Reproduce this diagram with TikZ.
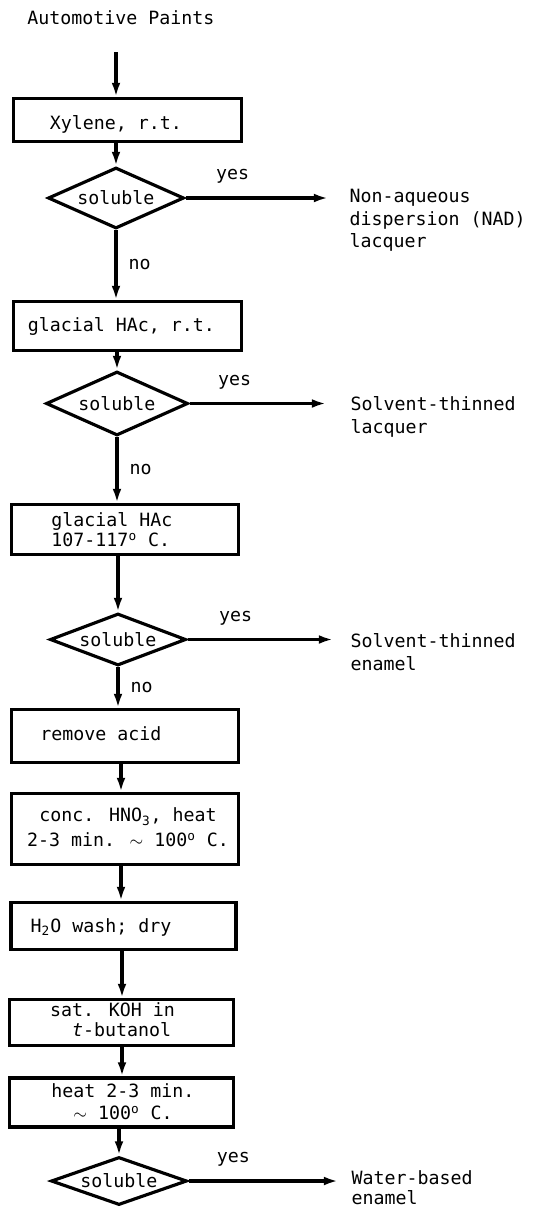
\documentclass[tikz,border=0pt]{standalone}
\usepackage{fontspec}
\usepackage{tikz}
\usetikzlibrary{arrows.meta,shapes.geometric}
\newfontfamily\plotter{DejaVu Sans Mono}
\newcommand{\degr}{\textsuperscript{o}}

\begin{document}
\begin{tikzpicture}[x=0.02cm, y=-0.02cm, line width=1.8pt,
    every node/.style={font=\plotter\fontsize{10.4}{11.4}\selectfont},
    box/.style={draw, rectangle, inner sep=0pt},
    query/.style={draw, diamond, aspect=2.7, inner sep=0pt,
        minimum width=2.72cm, minimum height=1.22cm},
    txt/.style={inner sep=0pt, align=center},
    result/.style={inner sep=0pt, anchor=north west, align=left,
        font=\plotter\fontsize{10.4}{12.8}\selectfont},
    arr/.style={-{Latex[length=8pt,width=5pt]}}]
    \useasboundingbox (0,0) rectangle (548,1211);

    % start
    \node (title) at (121,18) {Automotive Paints};
    \coordinate (start) at (116,52);

    % xylene at room temperature
    \node[box, minimum width=4.56cm, minimum height=0.86cm] (xyl) at (127.5,120) {};
    \node[txt] (xylt) at (116,124) {Xylene, r.t.};
    \node[query] (q1) at (116,198) {soluble};
    \coordinate (r1) at (328,198);
    \node[result] (nad) at (348,188) {Non-aqueous\\dispersion (NAD)\\lacquer};

    % glacial acetic acid, room temperature
    \node[box, minimum width=4.56cm, minimum height=0.98cm] (gla) at (127.5,326) {};
    \node[txt] (glat) at (121.5,326.5) {glacial HAc, r.t.};
    \node[query, minimum width=2.84cm, minimum height=1.28cm] (q2) at (117,403.5) {soluble};
    \coordinate (r2) at (326,403.5);
    \node[result] (stl) at (349,395) {Solvent-thinned\\lacquer};

    % glacial acetic acid, hot
    \node[box, minimum width=4.54cm, minimum height=1.0cm] (hot) at (125,529.5) {};
    \node[txt, align=left] (hott) at (112,530) {glacial HAc\\107-117\degr{} C.};
    \node[query, minimum height=1.04cm] (q3) at (118,639.5) {soluble};
    \coordinate (r3) at (333,639.5);
    \node[result] (ste) at (349,632) {Solvent-thinned\\enamel};

    % acid removal and nitric acid
    \node[box, minimum width=4.54cm, minimum height=1.06cm] (rem) at (125,736) {};
    \node[txt] (remt) at (101,734) {remove acid};
    \node[box, minimum width=4.54cm, minimum height=1.42cm] (nit) at (125,829) {};
    \node[txt] (nitt) at (128,827.5) {conc. HNO\textsubscript{3}, heat\\[2.8pt]2-3 min. $\sim$ 100\degr{} C.};

    % wash, KOH, heat
    \node[box, minimum width=4.5cm, minimum height=0.94cm] (wash) at (123.5,926) {};
    \node[txt] (washt) at (101,927.5) {H\textsubscript{2}O wash; dry};
    \node[box, minimum width=4.48cm, minimum height=0.92cm] (koh) at (121.5,1022.5) {};
    \node[txt, align=left] (koht) at (112.5,1020) {sat. KOH in\\\hspace*{1.2em}\textit{t}-butanol};
    \node[box, minimum width=4.48cm, minimum height=0.98cm] (heat) at (121.5,1102.5) {};
    \node[txt, align=left] (heatt) at (123,1102) {heat 2-3 min.\\[1pt]\hspace*{1.2em}$\sim$ 100\degr{} C.};
    \node[query, minimum height=0.96cm] (q4) at (119,1181) {soluble};
    \coordinate (r4) at (338,1181);
    \node[result] (wbe) at (350,1169) {Water-based\\[-1.5pt]enamel};

    % connectors
    \draw[arr] (start) -- (start |- xyl.north);
    \draw[arr] (xyl.south -| q1.north) -- (q1.north);
    \draw[arr] (q1.east) -- node[pos=.33, above=4pt] (y1) {yes} (r1);
    \draw[arr] (q1.south) -- node[right=3pt] (n1) {no} (q1.south |- gla.north);
    \draw[arr] (gla.south -| q2.north) -- (q2.north);
    \draw[arr] (q2.east) -- node[pos=.33, above=4pt] (y2) {yes} (r2);
    \draw[arr] (q2.south) -- node[right=3pt] (n2) {no} (q2.south |- hot.north);
    \draw[arr] (hot.south -| q3.north) -- (q3.north);
    \draw[arr] (q3.east) -- node[pos=.33, above=4pt] (y3) {yes} (r3);
    \draw[arr] (q3.south) -- node[right=3pt] (n3) {no} (q3.south |- rem.north);
    \draw[arr] (rem.south -| 121,0) -- (nit.north -| 121,0);
    \draw[arr] (nit.south -| 121,0) -- (wash.north -| 121,0);
    \draw[arr] (wash.south -| 122,0) -- (koh.north -| 122,0);
    \draw[arr] (koh.south -| 122,0) -- (heat.north -| 122,0);
    \draw[arr] (heat.south -| q4.north) -- (q4.north);
    \draw[arr] (q4.east) -- node[pos=.3, above=4pt] (y4) {yes} (r4);
\end{tikzpicture}
\end{document}
